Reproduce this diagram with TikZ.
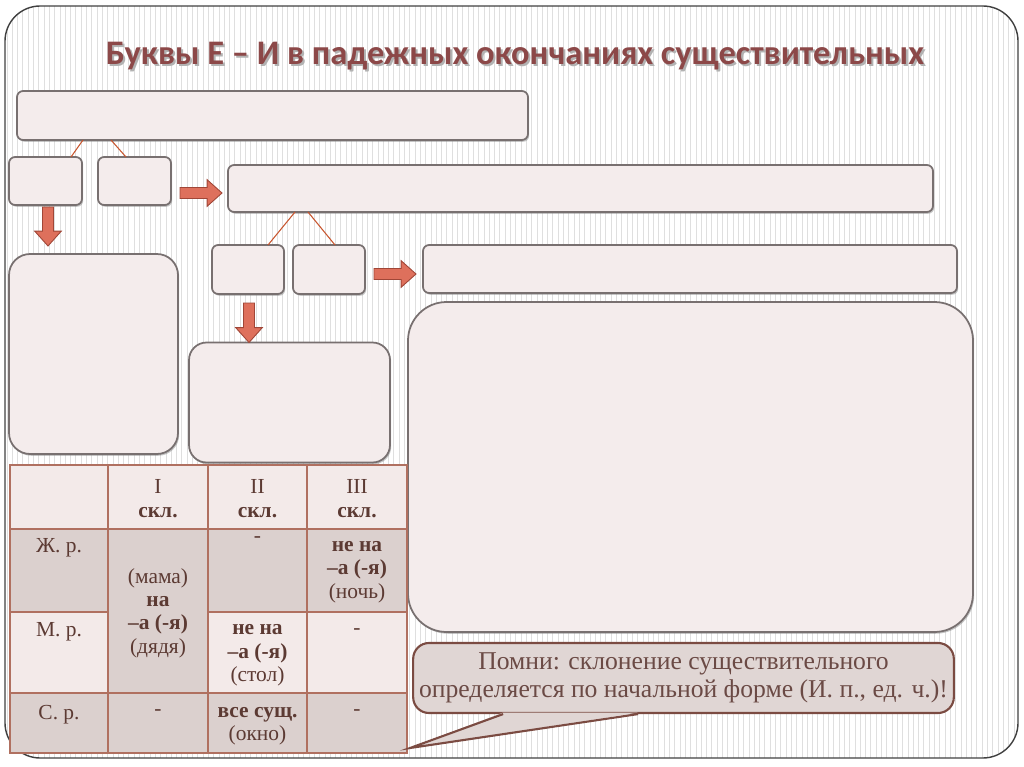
\documentclass[tikz,border=0pt]{standalone}
\usepackage{fontspec}
\setmainfont{Liberation Serif}
\newfontfamily\titlefont{Carlito}
\usetikzlibrary{calc,shadows}

\definecolor{boxfill}{RGB}{244,236,236}
\definecolor{boxline}{RGB}{120,112,112}
\definecolor{arrowfill}{RGB}{222,112,92}
\definecolor{arrowline}{RGB}{160,70,55}
\definecolor{linkline}{RGB}{200,85,46}
\definecolor{titlered}{RGB}{140,72,72}
\definecolor{cellpale}{RGB}{243,234,233}
\definecolor{celldark}{RGB}{219,208,206}
\definecolor{cellline}{RGB}{176,112,96}
\definecolor{celltext}{RGB}{92,58,51}
\definecolor{notefill}{RGB}{224,214,212}
\definecolor{noteline}{RGB}{123,75,66}
\definecolor{notetext}{RGB}{107,74,69}

\tikzset{
  panel/.style={draw=boxline, line width=1pt, fill=boxfill, rounded corners=3.5pt,
    inner sep=0pt, outer sep=0pt, drop shadow={shadow xshift=0.7pt, shadow yshift=-1pt, opacity=0.45}},
  boxsize/.style 2 args={minimum width=#1*0.02cm, minimum height=#2*0.02cm},
  link/.style={draw=linkline, line width=0.6pt},
  blockarrow/.style={fill=arrowfill, draw=arrowline, line width=0.5pt},
  cell/.style={text=celltext, font=\fontsize{12.2}{13.3}\selectfont, align=center, inner sep=0pt},
  grid/.style={draw=cellline, line width=0.6pt},
}

\newcommand\fatarrow[2]{%
  \draw[blockarrow] let \p1=(#1), \p2=(#2), \n1={atan2(\y2-\y1,\x2-\x1)}, \n2={veclen(\x2-\x1,\y2-\y1)} in
    [shift={(\p1)}, rotate=\n1] (0pt,-3.1pt) -- ({(\n2-8.5)*1pt},-3.1pt) -- ({(\n2-8.5)*1pt},-7.6pt)
    -- ({\n2*1pt},0pt) -- ({(\n2-8.5)*1pt},7.6pt) -- ({(\n2-8.5)*1pt},3.1pt) -- (0pt,3.1pt) -- cycle;}

\begin{document}
\begin{tikzpicture}[x=0.02cm, y=-0.02cm]
  \useasboundingbox (0,0) rectangle (1024,767);
  \begin{scope}
    \clip[rounded corners=20pt] (5,6) rectangle (1018,758);
    \fill[white] (5,6) rectangle (1018,758);
    \foreach \x in {7,12.3,...,1018} \draw[gray!25, line width=0.55pt] (\x,6) -- (\x,758);
  \end{scope}
  \draw[black!75, line width=0.8pt, rounded corners=20pt] (5,6) rectangle (1018,758);

  \node[text=black!30, font=\titlefont\bfseries\fontsize{19.6}{24}\selectfont] (titleshadow) at (517,58) {Буквы Е – И в падежных окончаниях существительных};
  \node[text=titlered, font=\titlefont\bfseries\fontsize{19.6}{24}\selectfont] (title) at (515,56) {Буквы Е – И в падежных окончаниях существительных};

  \node[panel, boxsize={511}{49}] (A) at (272.5,115.5) {};
  \node[panel, boxsize={73}{48}] (B1) at (45.5,181) {};
  \node[panel, boxsize={73}{48}] (B2) at (134.5,181) {};
  \node[panel, boxsize={705}{47}] (C) at (580.5,188.5) {};
  \node[panel, boxsize={169}{200}, rounded corners=12pt] (D) at (93.5,354) {};
  \node[panel, boxsize={72}{49}] (E1) at (248,269.5) {};
  \node[panel, boxsize={72}{49}] (E2) at (329,269.5) {};
  \node[panel, boxsize={534}{48}] (F) at (690,269) {};
  \node[panel, boxsize={201}{120}, rounded corners=10pt] (G) at (289.5,402.5) {};
  \node[panel, boxsize={565}{330}, rounded corners=22pt] (H) at (690.5,467) {};

  \draw[link] ($(A.south west)+(66,0)$) -- ($(B1.north west)+(62,0)$);
  \draw[link] ($(A.south west)+(94,0)$) -- ($(B2.north west)+(28,0)$);
  \draw[link] ($(C.south west)+(67,0)$) -- ($(E1.north west)+(56,0)$);
  \draw[link] ($(C.south west)+(80,0)$) -- ($(E2.north west)+(42,0)$);

  \fatarrow{$(B1.south)+(2.5,2)$}{$(B1.south |- D.north)+(2.5,-8)$}
  \fatarrow{$(B2.east)+(9,12)$}{$(C.west)+(-6,4.5)$}
  \fatarrow{$(E1.south)+(1,9)$}{$(E1.south |- G.north)+(1,0)$}
  \fatarrow{$(E2.east)+(9,4.5)$}{$(F.west)+(-7,5)$}

  % table
  \fill[cellpale] (10,465) rectangle (407,529);
  \fill[celldark] (10,529) rectangle (407,612);
  \fill[cellpale] (10,612) rectangle (407,693);
  \fill[celldark] (108,529) rectangle (208,693);
  \fill[celldark] (10,693) rectangle (407,753);
  \draw[grid] (10,465) rectangle (407,753);
  \foreach \x in {108,208,307} \draw[grid] (\x,465) -- (\x,753);
  \foreach \y in {529,693} \draw[grid] (10,\y) -- (407,\y);
  \draw[grid] (10,612) -- (108,612) (208,612) -- (407,612);

  \node[cell] (h1) at (158,498.5) {I\\\textbf{скл.}};
  \node[cell] (h2) at (257.5,498.5) {II\\\textbf{скл.}};
  \node[cell] (h3) at (357,498.5) {III\\\textbf{скл.}};
  \node[cell] (rf) at (59,548) {Ж. р.};
  \node[cell] (rm) at (59,632) {М. р.};
  \node[cell] (rn) at (59,715) {С. р.};
  \node[cell] (f1) at (158,613) {(мама)\\\textbf{на}\\\textbf{–а (-я)}\\(дядя)};
  \node[cell] (n1) at (158,713) {-};
  \node[cell] (f2) at (257.5,540) {-};
  \node[cell] (m2) at (257.5,655.5) {\textbf{не на}\\\textbf{–а (-я)}\\(стол)};
  \node[cell] (n2) at (257.5,726.5) {\textbf{все сущ.}\\(окно)};
  \node[cell] (f3) at (357,572) {\textbf{не на}\\\textbf{–а (-я)}\\(ночь)};
  \node[cell] (m3) at (357,632) {-};
  \node[cell] (n3) at (357,713) {-};

  % reminder
  \node[draw=noteline, line width=1.2pt, fill=notefill, rounded corners=9pt, boxsize={539}{70}, align=center,
    text=notetext, font=\fontsize{14.6}{15.9}\selectfont] (note) at (683.5,678)
    {Помни: склонение существительного\\определяется по начальной форме (И. п., ед. ч.)!};
  \coordinate (tip) at (410,748);
  \fill[notefill] ($(note.south west)+(91,-1.5)$) -- (tip) -- ($(note.south west)+(226,-1.5)$) -- cycle;
  \draw[noteline, line width=1.2pt, line join=miter] ($(note.south west)+(91,0)$) -- (tip) -- ($(note.south west)+(226,0)$);
\end{tikzpicture}
\end{document}
